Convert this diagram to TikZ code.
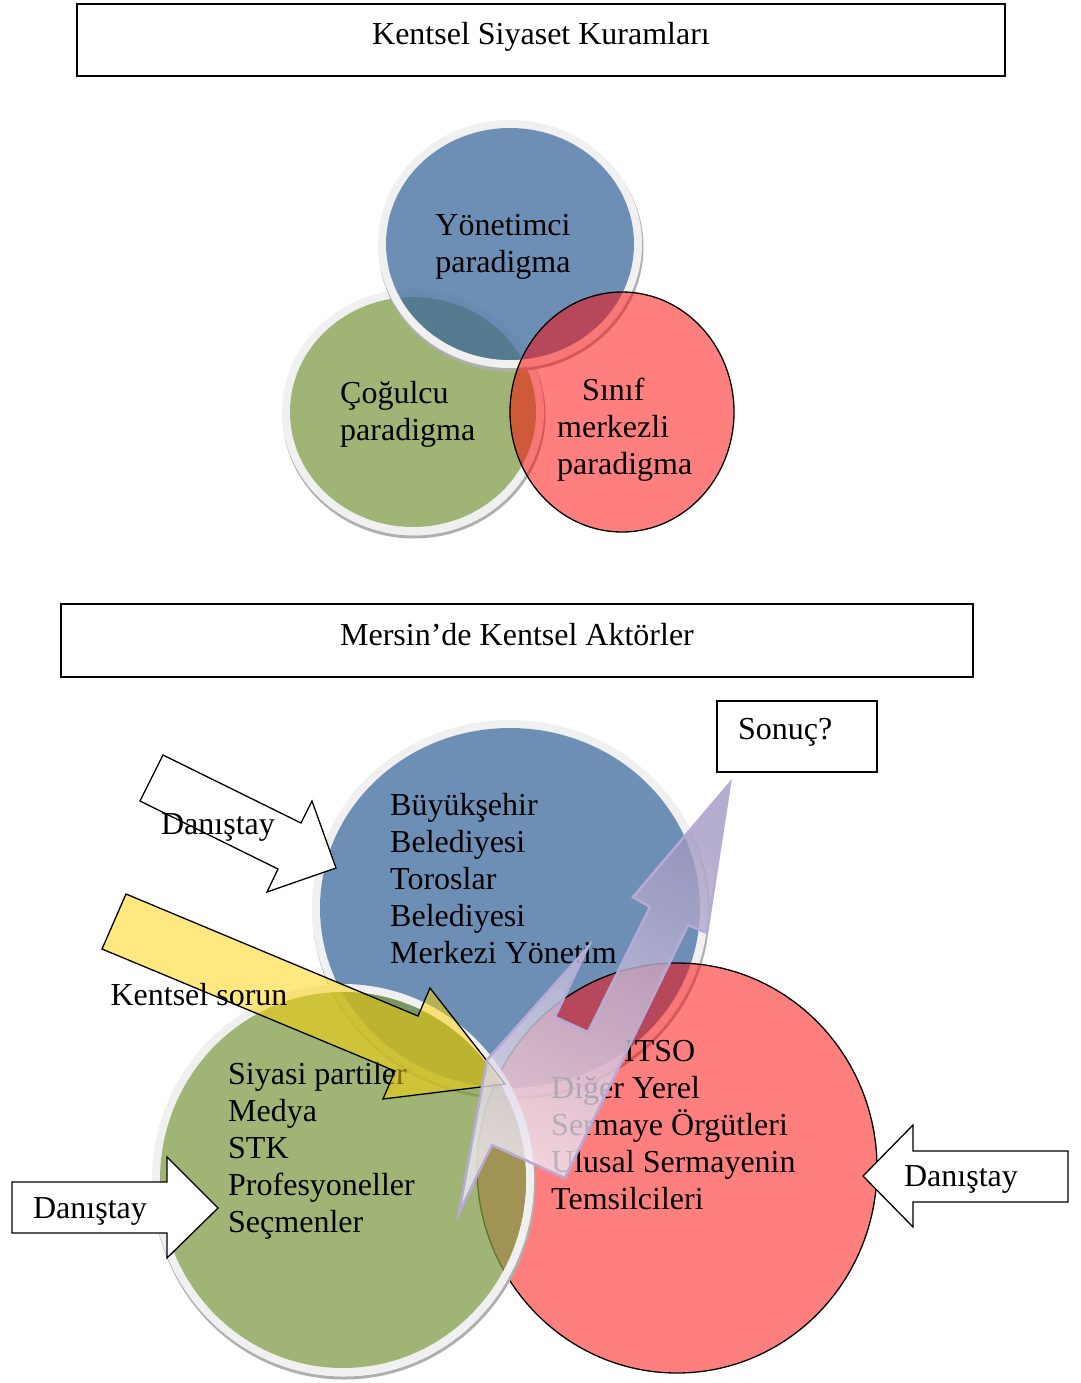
\documentclass[tikz,border=0pt]{standalone}
\usepackage{fontspec}
\setmainfont{Liberation Serif}
\definecolor{bluebase}{RGB}{60,104,155}
\definecolor{greenbase}{RGB}{127,155,69}
\definecolor{ringcol}{RGB}{240,240,240}
\definecolor{shadowcol}{RGB}{175,175,175}
\definecolor{arrowyellow}{RGB}{255,210,0}
\definecolor{arrowtop}{RGB}{160,150,192}
\definecolor{arrowbot}{RGB}{242,236,247}
\definecolor{arrowline}{RGB}{184,170,214}
\newcommand\vennbubble[5]{%
  \draw[shadowcol, line width=3pt, shift={(1,3)}] (#1,#2) ellipse [x radius={(#3+7)*1pt}, y radius={(#4+7)*1pt}];
  \draw[ringcol, line width=8pt] (#1,#2) ellipse [x radius={(#3+4)*1pt}, y radius={(#4+4)*1pt}];
  \fill[#5, fill opacity=0.74] (#1,#2) ellipse [x radius={#3*1pt}, y radius={#4*1pt}];
}
\newcommand\vennred[4]{%
  \fill[red, fill opacity=0.5] (#1,#2) ellipse [x radius={#3*1pt}, y radius={#4*1pt}];
  \draw[black, line width=1.3pt] (#1,#2) ellipse [x radius={#3*1pt}, y radius={#4*1pt}];
}
\begin{document}
\begin{tikzpicture}[x=1pt,y=-1pt,
  txt/.style={font=\fontsize{32}{37}\selectfont, inner sep=0pt},
  blk/.style={txt, align=left, anchor=north west},
  cblk/.style={txt, align=center, anchor=north},
  lbl/.style={txt, anchor=base},
  titlebox/.style={draw=black, line width=1.3pt, font=\fontsize{32}{37}\selectfont, text height=20pt, text depth=10pt, inner sep=0pt},
  whitearrow/.style={fill=white, draw=black, line width=1.3pt, line join=miter},
  yellowarrow/.style={fill=arrowyellow, fill opacity=0.5, draw=black, draw opacity=1, line width=1.3pt},
  purplearrow/.style={top color=arrowtop, bottom color=arrowbot, shading angle=-25, fill opacity=0.78, draw=arrowline, draw opacity=1, line width=2.5pt}
]
\useasboundingbox (0,0) rectangle (1080,1383);

% ---------- top part ----------
\node[titlebox, minimum width=928pt, minimum height=72pt] (t1) at (541,40) {Kentsel Siyaset Kuramları};

\vennbubble{413}{412}{123}{115}{greenbase}
\vennbubble{510}{244}{124}{116}{bluebase}
\vennred{622}{412}{112}{120}

\node[cblk] (yon) at (503,207) {\rule{0pt}{28pt}Yönetimci\\paradigma};
\node[blk] (cog) at (340,375) {\rule{0pt}{28pt}Çoğulcu\\paradigma};
\node[blk] (sin) at (557,372) {\rule{0pt}{28pt}\hspace*{25pt}Sınıf\\merkezli\\paradigma};

% ---------- bottom part ----------
\node[titlebox, minimum width=912pt, minimum height=73pt] (t2) at (517,640.5) {Mersin’de Kentsel Aktörler};
\node[draw=black, line width=1.3pt, font=\fontsize{32}{37}\selectfont, text height=20pt, text depth=15pt, inner xsep=21pt, inner ysep=0pt, text width=118pt, align=left, minimum height=71pt] (son) at (797,736.5) {Sonuç?};

\vennbubble{510}{908}{190}{180}{bluebase}
\vennred{677}{1168}{200}{205}
\vennbubble{343}{1180}{183}{188}{greenbase}

\node[blk] (bb) at (390,787) {\rule{0pt}{28pt}Büyükşehir\\Belediyesi\\Toroslar\\Belediyesi\\Merkezi Yönetim};
\node[blk] (gb) at (228,1056) {\rule{0pt}{28pt}Siyasi partiler\\Medya\\STK\\Profesyoneller\\Seçmenler};
\node[blk] (rb) at (551,1033) {\rule{0pt}{28pt}\hspace*{73pt}ITSO\\Diğer Yerel\\Sermaye Örgütleri\\Ulusal Sermayenin\\Temsilcileri};

% yellow arrow (Kentsel sorun)
\path[yellowarrow] (126,894) -- (418,1016) -- (430,988) -- (505,1084) -- (383,1099) -- (395,1071) -- (102,949) -- cycle;

% purple zigzag arrow (towards Sonuç?)
\path[purplearrow] (459,1213) -- (487,1060) -- (588,947) -- (555,1017) -- (588,1032) -- (650,907) -- (633,897) -- (730,783) -- (707,933) -- (688,925) -- (565,1178) -- (492,1145) -- cycle;

% Danıştay arrows
\path[whitearrow] (163,755) -- (301,823) -- (312,801) -- (336,868) -- (267,892) -- (278,869) -- (140,801) -- cycle;
\path[whitearrow] (12,1182) -- (167,1182) -- (167,1157) -- (218,1208) -- (167,1258) -- (167,1233) -- (12,1233) -- cycle;
\path[whitearrow] (1068,1151) -- (913,1151) -- (913,1125) -- (863,1176) -- (913,1227) -- (913,1202) -- (1068,1202) -- cycle;

\node[lbl] (d1) at (218,834) {Danıştay};
\node[lbl] (ks) at (199,1005) {Kentsel sorun};
\node[lbl] (d2) at (90,1218) {Danıştay};
\node[lbl] (d3) at (961,1186) {Danıştay};
\end{tikzpicture}
\end{document}
